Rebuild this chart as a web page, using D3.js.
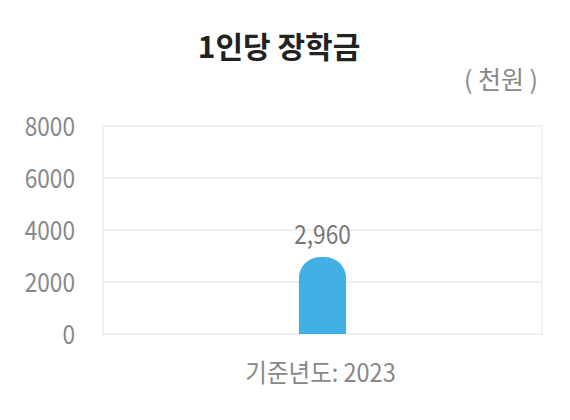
<!DOCTYPE html>
<html>
<head>
<meta charset="utf-8">
<script src="https://cdn.jsdelivr.net/npm/d3@7"></script>
<style>
  body { margin: 0; background: #fff; }
  text { font-family: "Noto Sans CJK KR", sans-serif; }
</style>
</head>
<body>
<div id="chart-container"></div>
<script>
// 데이터
const years = ["2023"];
const values = [2960];
const yTicks = [0, 2000, 4000, 6000, 8000];

const width = 570;
const height = 420;
const plot = { left: 103, right: 542, top: 126, bottom: 334 };
const narrow = 0.84; // 좁은 글꼴 흉내

const svg = d3.select("#chart-container")
    .append("svg")
    .attr("width", width)
    .attr("height", height);

const x = d3.scaleBand()
    .domain(years)
    .range([plot.left, plot.right])
    .padding(0.806);

const y = d3.scaleLinear()
    .domain([0, 8000])
    .range([plot.bottom, plot.top]);

// 제목
svg.append("text")
    .attr("x", 279)
    .attr("y", 58)
    .attr("text-anchor", "middle")
    .attr("font-size", "30px")
    .attr("font-weight", "bold")
    .attr("fill", "#222")
    .text("1인당 장학금");

// 단위
svg.append("text")
    .attr("x", 538)
    .attr("y", 89)
    .attr("text-anchor", "end")
    .attr("font-size", "25px")
    .attr("fill", "#888")
    .style("white-space", "pre")
    .text("( 천원 )");

// 테두리 + 격자
svg.append("rect")
    .attr("x", plot.left)
    .attr("y", plot.top)
    .attr("width", plot.right - plot.left)
    .attr("height", plot.bottom - plot.top)
    .attr("fill", "none")
    .attr("stroke", "#f1f1f1")
    .attr("stroke-width", 2);

svg.selectAll(".grid")
    .data(yTicks)
    .enter()
    .append("line")
    .attr("class", "grid")
    .attr("x1", plot.left)
    .attr("x2", plot.right)
    .attr("y1", d => y(d))
    .attr("y2", d => y(d))
    .attr("stroke", "#efefef")
    .attr("stroke-width", 2);

// y축
const yAxis = svg.append("g")
    .attr("transform", `translate(${plot.left},0)`)
    .call(d3.axisLeft(y).tickValues(yTicks).tickSize(0).tickPadding(28).tickFormat(d3.format("d")));
yAxis.select(".domain").remove();
yAxis.selectAll("text")
    .attr("x", 0)
    .attr("transform", `translate(-28,0) scale(${narrow},1)`)
    .attr("font-size", "27px")
    .attr("dy", "0.36em")
    .attr("fill", "#888");

// 막대 (윗부분 둥글게)
const r = 21;
svg.selectAll(".bar")
    .data(values)
    .enter()
    .append("path")
    .attr("class", "bar")
    .attr("fill", "#41b1e4")
    .attr("d", (d, i) => {
        const x0 = x(years[i]), w = x.bandwidth();
        const top = y(d), bot = y(0);
        return `M${x0},${bot} L${x0},${top + r} A${r},${r} 0 0 1 ${x0 + r},${top}` +
               ` L${x0 + w - r},${top} A${r},${r} 0 0 1 ${x0 + w},${top + r} L${x0 + w},${bot} Z`;
    });

// 값 라벨
svg.selectAll(".val")
    .data(values)
    .enter()
    .append("text")
    .attr("class", "val")
    .attr("transform", (d, i) => `translate(${x(years[i]) + x.bandwidth() / 2},${y(d) - 13}) scale(${narrow},1)`)
    .attr("text-anchor", "middle")
    .attr("font-size", "27px")
    .attr("fill", "#777")
    .text(d => d3.format(",")(d));

// x축 라벨
svg.selectAll(".xlab")
    .data(years)
    .enter()
    .append("text")
    .attr("class", "xlab")
    .attr("transform", d => `translate(${x(d) + x.bandwidth() / 2 - 2},382) scale(0.94,1)`)
    .attr("text-anchor", "middle")
    .attr("font-size", "25px")
    .attr("fill", "#888")
    .text(d => "기준년도: " + d);
</script>
</body>
</html>
